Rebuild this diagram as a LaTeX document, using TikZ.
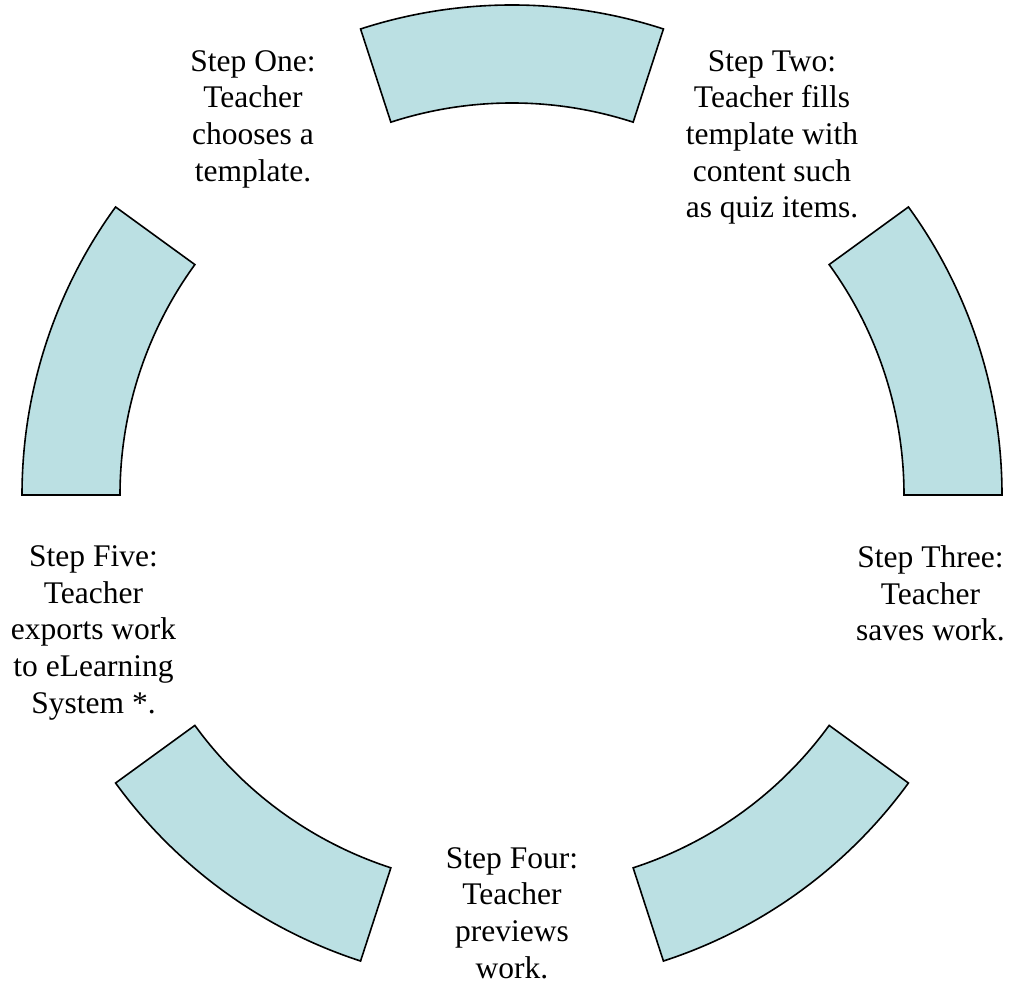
\documentclass[tikz,border=0pt]{standalone}
\usepackage{fontspec}
\setmainfont{Liberation Serif}
\usepackage{xcolor}
\definecolor{segblue}{HTML}{BBE0E3}
\tikzset{
  segment/.style={draw=black, fill=segblue, line width=1.6pt},
  steptext/.style={align=center, inner sep=0pt, anchor=north, font=\fontsize{31.5}{36.7}\selectfont}
}

\begin{document}
\begin{tikzpicture}[x=1pt,y=1pt]
            \useasboundingbox (0,0) rectangle (1010,983);

            \foreach \a in {0,72,144,216,288}{
                \draw[segment, shift={(512,488)}] (\a:392) arc[start angle=\a, end angle=\a+36, radius=392]
                    -- (\a+36:490) arc[start angle=\a+36, end angle=\a, radius=490] -- cycle;
            }

            \node[steptext] (one) at (253,933) {Step One:\\Teacher\\chooses a\\template.};
            \node[steptext] (two) at (772,933) {Step Two:\\Teacher fills\\template with\\content such\\as quiz items.};
            \node[steptext] (three) at (930.5,437.5) {Step Three:\\Teacher\\saves work.};
            \node[steptext] (four) at (512,136) {Step Four:\\Teacher\\previews\\work.};
            \node[steptext] (five) at (93.5,437.5) {Step Five:\\Teacher\\exports work\\to eLearning\\System *.};
        \end{tikzpicture}
\end{document}
